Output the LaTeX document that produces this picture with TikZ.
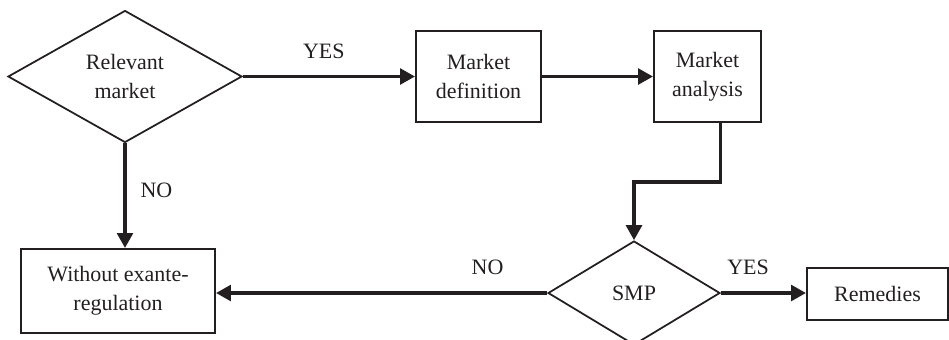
\documentclass[tikz,border=0pt]{standalone}
\usepackage{fontspec}
\setmainfont{Liberation Serif}
\usepackage{tikz}
\usetikzlibrary{arrows.meta,shapes.geometric}
\definecolor{ink}{HTML}{231F20}

\begin{document}
\begin{tikzpicture}[x=0.02cm, y=-0.02cm,
		every node/.style={font=\fontsize{12.5}{16.5}\selectfont, text=ink, align=center},
		decision/.style={draw=ink, line width=1pt, diamond, inner sep=0pt},
		stepbox/.style={draw=ink, line width=1.2pt, rectangle, inner sep=0pt, minimum height=1.82cm},
		flow/.style={draw=ink, line width=1.8pt, -{Triangle[length=8.5pt, width=9pt]}},
		lbl/.style={draw=none, inner sep=0pt}]
			%%%%% START %%%%%
			
			\useasboundingbox (0, 0) rectangle (949, 339);
			
			\node[decision, minimum width=4.68cm, minimum height=2.64cm] (rel) at (125, 76.5) {Relevant\\market};
			\node[stepbox, minimum width=2.5cm] (mdef) at (478.5, 76.5) {Market\\definition};
			\node[stepbox, minimum width=2.14cm] (mana) at (707.5, 76.5) {Market\\analysis};
			
			\node[decision, minimum width=3.44cm, minimum height=2.08cm] (smp) at (634, 293) {SMP};
			\node[stepbox, minimum width=3.88cm, minimum height=1.68cm] (nonreg) at (118, 291) {Without exante-\\regulation};
			\node[stepbox, minimum width=2.82cm, minimum height=1.04cm] (rem) at (877.5, 294) {Remedies};
			
			\coordinate (bend) at (720.7, 182);
			
			\draw[flow] (rel.east) -- (mdef.west) node[lbl, pos=0.47, above=0.33cm] (yesa) {YES};
			\draw[flow] (mdef.east) -- (mana.west);
			\draw[flow] (mana.south -| bend) -- (bend) -| (smp.north);
			
			\draw[flow] (rel.south) -- (rel.south |- nonreg.north) node[lbl, pos=0.45, right=0.28cm] (noa) {NO};
			\draw[flow] (smp.west) -- (smp.west -| nonreg.east) node[lbl, pos=0.18, above=0.33cm] (nob) {NO};
			\draw[flow] (smp.east) -- (smp.east -| rem.west) node[lbl, pos=0.32, above=0.33cm] (yesb) {YES};
			
			%%%%% END %%%%%
		\end{tikzpicture}
\end{document}
